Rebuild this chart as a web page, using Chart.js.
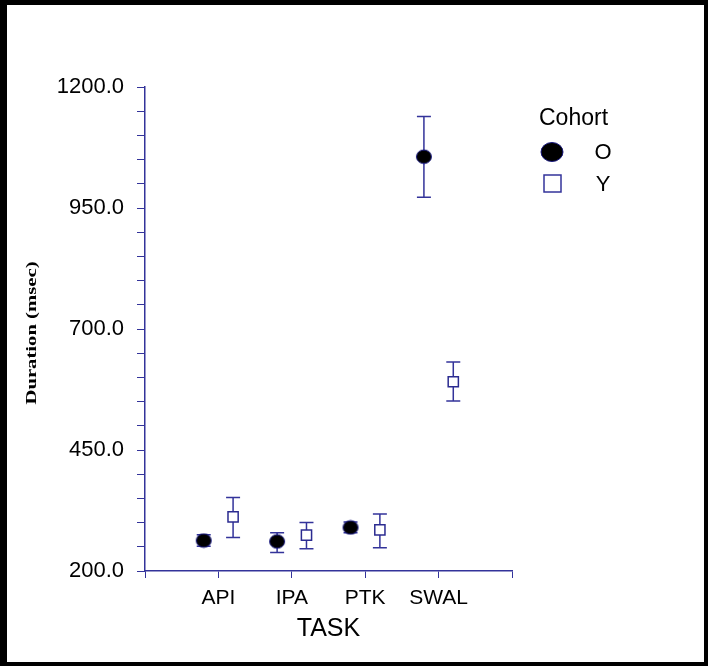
<!DOCTYPE html>
<html>

<head>
    <title>Duration by task</title>
    <script src="https://cdn.jsdelivr.net/npm/chart.js@4"></script>
    <style>
        body { margin: 0; background: #fff; }
        #wrap { position: relative; width: 708px; height: 666px; }
        #frame {
            position: absolute; left: 0; top: 0; right: 0; bottom: 0;
            border-style: solid; border-color: #000;
            border-width: 5px 4px 4px 7px;
            pointer-events: none;
        }
    </style>
</head>

<body>
    <div id="wrap">
        <canvas id="chart" width="708" height="666"></canvas>
        <div id="frame"></div>
    </div>
    <script>
        // Mean duration and error limits per task, for both cohorts
        const tasks = ['API', 'IPA', 'PTK', 'SWAL'];

        const oldMean = [263, 261, 290, 1056];
        const oldLow = [251, 238, 279, 972];
        const oldHigh = [275, 279, 301, 1139];

        const youngMean = [312, 274, 285, 591];
        const youngLow = [269, 246, 248, 551];
        const youngHigh = [352, 300, 318, 632];

        const yTicks = [200, 450, 700, 950, 1200];

        const navy = '#33339a';
        const shift = 0.2;
        const sans = '"Liberation Sans", Arial, sans-serif';

        const toPoints = (means, lows, highs, dx) =>
            means.map((m, i) => ({ x: i + 1 + dx, y: m, low: lows[i], high: highs[i] }));

        // slightly flattened filled dot
        const drawDot = (ctx, x, y, rx, ry) => {
            ctx.beginPath();
            ctx.ellipse(x, y, rx, ry, 0, 0, Math.PI * 2);
            ctx.fillStyle = '#000';
            ctx.fill();
            ctx.strokeStyle = '#1a1a80';
            ctx.lineWidth = 1;
            ctx.stroke();
        };

        const dot = document.createElement('canvas');
        dot.width = 18;
        dot.height = 16;
        drawDot(dot.getContext('2d'), 9, 8, 7.5, 6.8);

        // vertical error bars with caps, drawn under the markers
        const errorBars = {
            id: 'errorBars',
            beforeDatasetsDraw(chart) {
                const { ctx, scales: { x, y } } = chart;
                ctx.save();
                ctx.strokeStyle = navy;
                ctx.lineWidth = 1.5;
                chart.data.datasets.forEach((ds) => {
                    ds.data.forEach((p) => {
                        const px = x.getPixelForValue(p.x);
                        const top = y.getPixelForValue(p.high);
                        const bot = y.getPixelForValue(p.low);
                        ctx.beginPath();
                        ctx.moveTo(px, top);
                        ctx.lineTo(px, bot);
                        ctx.moveTo(px - 7, top);
                        ctx.lineTo(px + 7, top);
                        ctx.moveTo(px - 7, bot);
                        ctx.lineTo(px + 7, bot);
                        ctx.stroke();
                    });
                });
                ctx.restore();
            }
        };

        // stretched bold serif title beside the y axis
        const yTitle = {
            id: 'yTitle',
            afterDraw(chart) {
                const ctx = chart.ctx;
                ctx.save();
                ctx.translate(32, 333);
                ctx.rotate(-Math.PI / 2);
                ctx.scale(1.38, 1);
                ctx.font = 'bold 15px "Liberation Serif", "Times New Roman", serif';
                ctx.fillStyle = '#000';
                ctx.textAlign = 'center';
                ctx.textBaseline = 'middle';
                ctx.fillText('Duration (msec)', 0, 0);
                ctx.restore();
            }
        };

        // legend block to the right of the plot
        const cohortLegend = {
            id: 'cohortLegend',
            afterDraw(chart) {
                const ctx = chart.ctx;
                ctx.save();
                ctx.fillStyle = '#000';
                ctx.font = '23px ' + sans;
                ctx.textBaseline = 'middle';
                ctx.textAlign = 'left';
                ctx.fillText('Cohort', 539, 119);

                ctx.font = '22px ' + sans;
                ctx.textAlign = 'center';

                drawDot(ctx, 552, 152, 11, 9.5);
                ctx.fillStyle = '#000';
                ctx.fillText(chart.data.datasets[0].label, 603, 153);

                ctx.strokeStyle = navy;
                ctx.lineWidth = 1.5;
                ctx.strokeRect(544, 175, 17, 17);
                ctx.fillText(chart.data.datasets[1].label, 603, 185);
                ctx.restore();
            }
        };

        const canvas = document.getElementById('chart');

        const chart = new Chart(canvas, {
            type: 'scatter',
            data: {
                datasets: [
                    {
                        label: 'O',
                        data: toPoints(oldMean, oldLow, oldHigh, -shift),
                        pointStyle: dot,
                        pointRadius: 7.5,
                        pointHoverRadius: 7.5,
                        backgroundColor: '#000',
                        borderColor: '#1a1a80',
                    },
                    {
                        label: 'Y',
                        data: toPoints(youngMean, youngLow, youngHigh, shift),
                        pointStyle: 'rect',
                        pointRadius: 7.2,
                        pointHoverRadius: 7.2,
                        backgroundColor: '#fff',
                        borderColor: '#2b2b90',
                        borderWidth: 1.5,
                    },
                ],
            },
            options: {
                responsive: false,
                animation: false,
                layout: {
                    padding: { left: 0, top: 87, right: 196, bottom: 0 },
                },
                plugins: {
                    legend: { display: false },
                    tooltip: { enabled: false },
                },
                scales: {
                    x: {
                        type: 'linear',
                        min: 0,
                        max: 5,
                        afterFit: (scale) => { scale.height = 95; },
                        afterBuildTicks: (scale) => {
                            scale.ticks = [0, 1, 2, 3, 4, 5].map((v) => ({ value: v }));
                        },
                        ticks: {
                            autoSkip: false,
                            maxRotation: 0,
                            padding: 8,
                            color: '#000',
                            font: { family: sans, size: 21 },
                            callback: (v) => tasks[v - 1] || '',
                        },
                        grid: {
                            drawOnChartArea: false,
                            drawTicks: true,
                            tickLength: 7,
                            tickColor: navy,
                        },
                        border: { display: true, color: navy, width: 1.5 },
                        title: {
                            display: true,
                            text: 'TASK',
                            color: '#000',
                            font: { family: sans, size: 25 },
                            padding: { top: 0, bottom: 22 },
                        },
                    },
                    y: {
                        min: 200,
                        max: 1200,
                        afterFit: (scale) => { scale.width = 145; },
                        ticks: {
                            stepSize: 50,
                            autoSkip: false,
                            padding: 13,
                            color: '#000',
                            font: { family: sans, size: 22 },
                            callback: (v) => yTicks.includes(v) ? v.toFixed(1) : '',
                        },
                        grid: {
                            drawOnChartArea: false,
                            drawTicks: true,
                            tickLength: 8,
                            tickColor: navy,
                        },
                        border: { display: true, color: navy, width: 1.5 },
                        title: { display: false },
                    },
                },
            },
            plugins: [errorBars, yTitle, cohortLegend],
        });
    </script>
</body>

</html>
